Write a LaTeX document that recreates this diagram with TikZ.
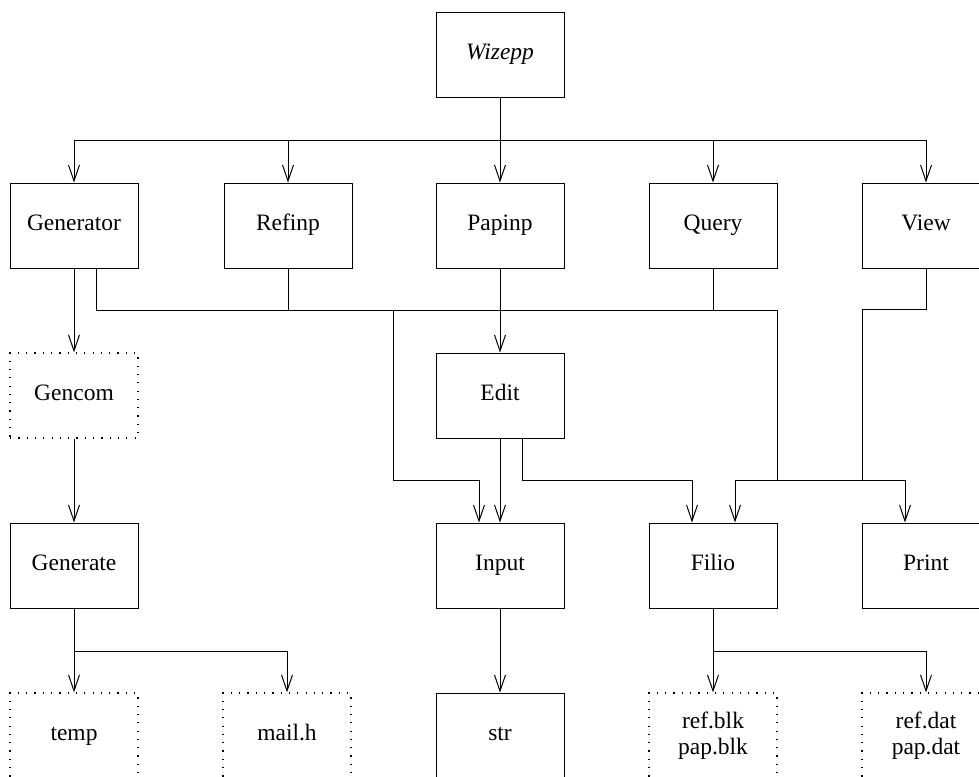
\documentclass[tikz,border=0pt]{standalone}
\usepackage{fontspec}
\setmainfont{Liberation Serif}
\usetikzlibrary{arrows.meta,calc}
\tikzset{
  plainbox/.style={draw, line width=0.5pt, minimum width=64pt, minimum height=42.5pt, inner sep=0pt, align=center},
  modbox/.style={plainbox, text height=8pt, text depth=3.5pt},
  dots/.style={line width=0.6pt, dash pattern=on 0.6pt off 3.55pt},
  filebox/.style={modbox, dots},
  filesbox/.style={plainbox, dots},
}
\begin{document}
\begin{tikzpicture}[>={Straight Barb[length=8pt,width=5.5pt]}, x=0.5pt, y=-0.5pt, line width=0.5pt,
  font=\fontsize{11.75}{13}\selectfont]
\useasboundingbox (0,0) rectangle (979,776);
% modules
\node[modbox] (wizepp) at (500,54.5) {\textit{Wizepp}};
\node[modbox] (gen) at (74,225.5) {Generator};
\node[modbox] (refinp) at (288,225.5) {Refinp};
\node[modbox] (papinp) at (500,225.5) {Papinp};
\node[modbox] (query) at (713,225.5) {Query};
\node[modbox] (view) at (926,225.5) {View};
\node[filebox] (gencom) at (74,395.5) {Gencom};
\node[modbox] (edit) at (500,395.5) {Edit};
\node[modbox] (generate) at (74,565.5) {Generate};
\node[modbox] (input) at (500,565.5) {Input};
\node[modbox] (filio) at (713,565.5) {Filio};
\node[modbox] (print) at (926,565.5) {Print};
% files
\node[filebox] (temp) at (74,735.5) {temp};
\node[filebox] (mailh) at (287,735.5) {mail.h};
\node[modbox] (str) at (500,735.5) {str};
\node[filesbox] (blk) at (713,735.5) {ref.blk\\pap.blk};
\node[filesbox] (dat) at (926,735.5) {ref.dat\\pap.dat};
% Wizepp calls the first row
\coordinate (top) at (500,140);
\draw (wizepp) -- (top);
\foreach \n in {gen,refinp,papinp,query,view}
  \draw[->] (top) -| (\n);
% generator chain
\draw[->] (gen) -- (gencom);
\draw[->] (gencom) -- (generate);
\draw[->] (generate) -- (temp);
\draw[->] ($(generate.south)+(0,43)$) -| (mailh);
% middle bus
\coordinate (midw) at (96,310);
\coordinate (mide) at (777,310);
\coordinate (drop) at (393,310);
\draw ($(gen.south)+(22,0)$) -- (midw) -- (mide);
\draw (refinp) -- (refinp |- midw);
\draw (query) -- (query |- midw);
\draw[->] (papinp) -- (edit);
\draw[->] (drop) |- ($(input.north)+(-21,-42)$) -- ($(input.north)+(-21,0)$);
\draw[->] (edit) -- (input);
\draw[->] ($(edit.south)+(22,0)$) |- ($(filio.north)+(-21,-42)$) -- ($(filio.north)+(-21,0)$);
% Query and View to Filio and Print
\draw (mide) -- ($(filio.north)+(64,-42)$);
\draw (view) |- ($(print.north)+(-64,-213)$) -- ($(print.north)+(-64,-42)$);
\draw[->] ($(filio.north)+(22,-42)$) -- ($(filio.north)+(22,0)$);
\draw[->] ($(filio.north)+(22,-42)$) -| ($(print.north)+(-21,0)$);
% file outputs
\draw[->] (input) -- (str);
\draw[->] (filio) -- (blk);
\draw[->] ($(filio.south)+(0,43)$) -| (dat);
\end{tikzpicture}
\end{document}
